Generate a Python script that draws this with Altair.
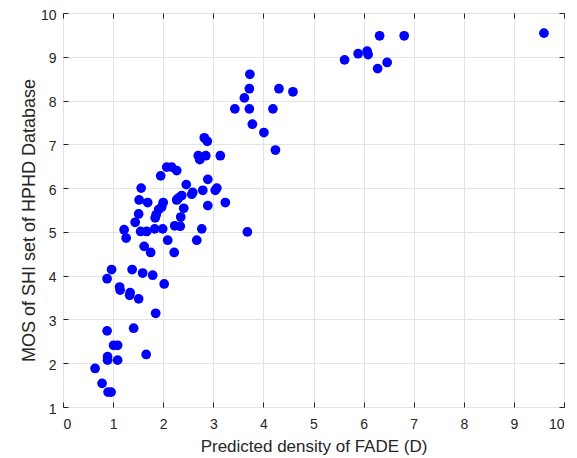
import altair as alt
import pandas as pd

x_vals = [9.60, 6.32, 6.81, 5.62, 5.89, 6.07, 6.09, 6.28, 6.47,
          3.73, 3.72, 4.31, 4.59, 3.62, 3.43, 3.72, 4.19, 3.78, 4.01, 4.24,
          2.82, 2.88, 2.70, 2.85, 3.14, 2.73,
          2.07, 2.17, 2.27, 1.95, 1.56, 2.46, 2.89, 3.07, 3.04, 2.59, 2.79,
          1.52, 1.69, 3.24, 2.89, 2.00, 1.97, 1.91, 1.86, 1.84,
          2.30, 2.37, 2.27, 2.41, 2.35, 1.51, 1.44, 1.22, 1.26,
          1.55, 1.67, 1.83, 1.99, 2.23, 2.34, 2.77, 2.09, 2.67, 1.62, 1.75, 2.22,
          3.68, 2.57,
          0.97, 1.38, 1.59, 1.79, 0.88, 2.02, 1.13, 1.14, 1.34, 1.33, 1.51, 1.85,
          0.88, 1.41, 1.01, 1.09, 0.89, 0.89, 1.09, 1.66, 0.64, 0.78, 0.90, 0.96]
y_vals = [9.54, 9.48, 9.48, 8.93, 9.07, 9.13, 9.05, 8.73, 8.87,
          8.60, 8.27, 8.27, 8.20, 8.06, 7.81, 7.81, 7.81, 7.46, 7.27, 6.87,
          7.15, 7.07, 6.74, 6.74, 6.74, 6.65,
          6.48, 6.48, 6.40, 6.28, 6.00, 6.08, 6.20, 6.00, 5.95, 5.90, 5.95,
          5.73, 5.67, 5.67, 5.60, 5.67, 5.57, 5.51, 5.39, 5.32,
          5.77, 5.83, 5.73, 5.54, 5.34, 5.41, 5.22, 5.05, 4.86,
          5.01, 5.01, 5.07, 5.07, 5.14, 5.13, 5.07, 4.81, 4.81, 4.67, 4.53, 4.53,
          5.00, 5.86,
          4.14, 4.14, 4.06, 4.01, 3.93, 3.81, 3.74, 3.67, 3.61, 3.55, 3.47, 3.14,
          2.74, 2.80, 2.41, 2.41, 2.15, 2.07, 2.07, 2.20, 1.88, 1.54, 1.34, 1.34]

tick_x = list(range(0, 11))
tick_y = list(range(1, 11))

df = pd.DataFrame({"x": x_vals, "y": y_vals})

FONT = "Liberation Sans"
DARK = "#262626"
GRID = "#e3e3e3"

xs = alt.Scale(domain=[0, 10], nice=False, zero=False)
ys = alt.Scale(domain=[1, 10], nice=False, zero=False)

main = alt.Chart(df).mark_circle(size=95, color="#0000ff", opacity=1).encode(
    x=alt.X("x:Q", scale=xs, title="Predicted density of FADE (D)",
            axis=alt.Axis(values=tick_x, offset=-5, tickSize=5, domain=False,
                          grid=True, gridColor=GRID, tickColor=DARK,
                          labelFont=FONT, labelFontSize=14, labelColor=DARK,
                          labelPadding=10, titleFont=FONT, titleFontSize=17,
                          titleFontWeight="normal", titleColor=DARK, titlePadding=7)),
    y=alt.Y("y:Q", scale=ys, title="MOS of SHI set of HPHD Database",
            axis=alt.Axis(values=tick_y, offset=-5, tickSize=5, domain=False,
                          grid=True, gridColor=GRID, tickColor=DARK,
                          labelFont=FONT, labelFontSize=14, labelColor=DARK,
                          labelPadding=7, labelOffset=2, titleFont=FONT,
                          titleFontSize=18, titleY=207,
                          titleFontWeight="normal", titleColor=DARK, titlePadding=2)),
)

box = alt.Chart(df).mark_circle(opacity=0).encode(
    x=alt.X("x:Q", scale=xs, title=None,
            axis=alt.Axis(orient="top", values=tick_x, offset=-5, tickSize=5,
                          domain=False, grid=False, labels=False, tickColor=DARK)),
    y=alt.Y("y:Q", scale=ys, title=None,
            axis=alt.Axis(orient="right", values=tick_y, offset=-5, tickSize=5,
                          domain=False, grid=False, labels=False, tickColor=DARK)),
)

chart = alt.layer(main, box).resolve_axis(x="independent", y="independent").properties(
    width=501, height=394,
    autosize=alt.AutoSizeParams(type="none"),
    padding={"left": 55, "top": 5, "right": 5, "bottom": 50},
).configure_view(stroke=DARK, strokeWidth=1).configure(background="white")

chart.save("out.html", embed_options={"renderer": "svg", "actions": False})
